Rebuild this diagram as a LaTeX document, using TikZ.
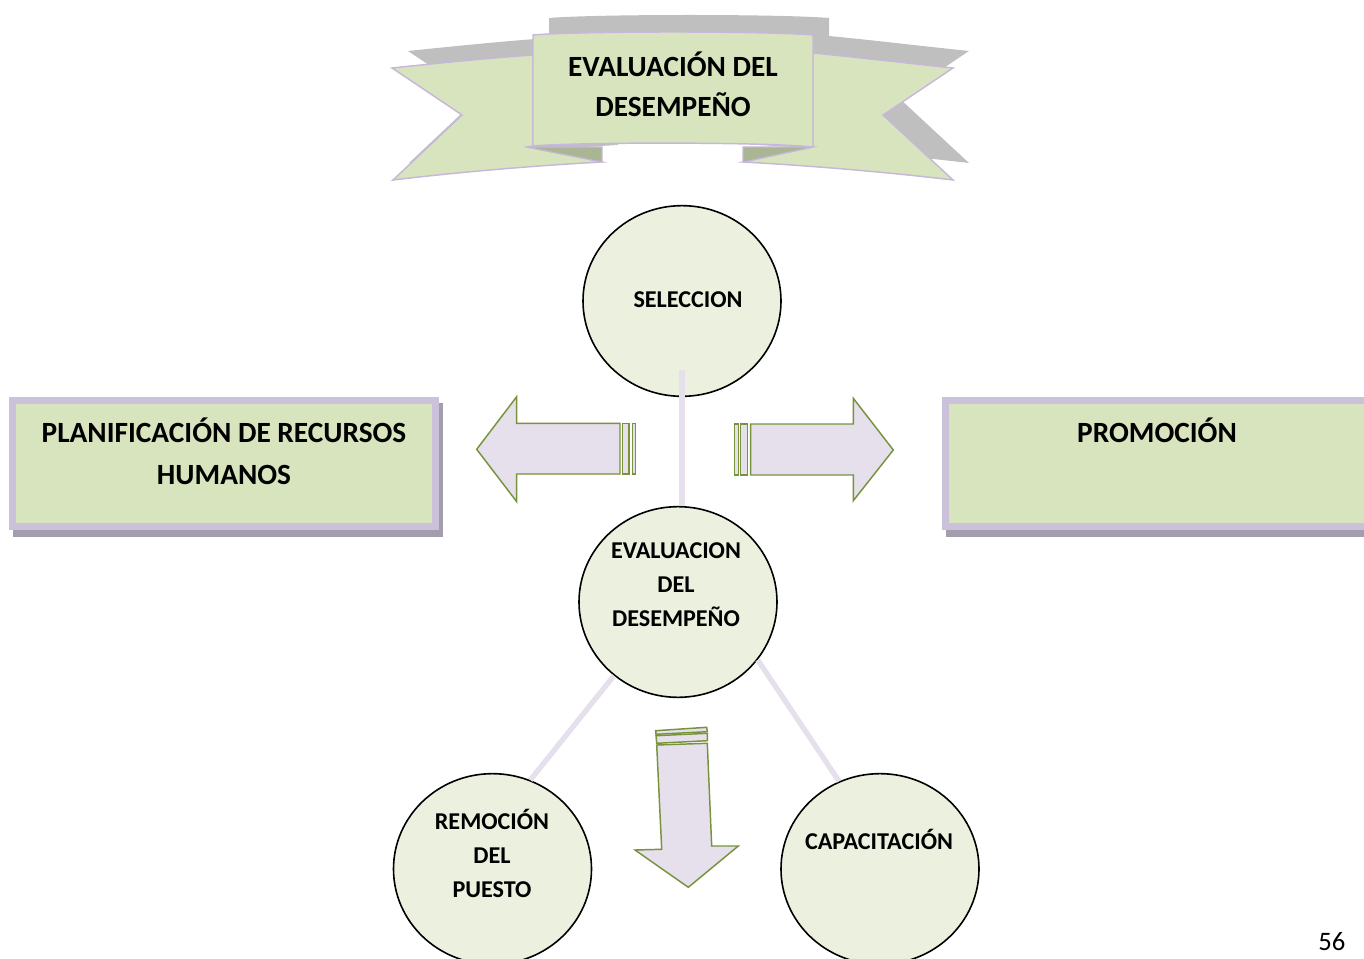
\documentclass[tikz,border=0pt]{standalone}
\usepackage{fontspec}
\setmainfont{Carlito}
\usetikzlibrary{shapes.geometric,calc}
\definecolor{bgreen}{HTML}{D7E4BD}
\definecolor{cgreen}{HTML}{EBF1DE}
\definecolor{blav}{HTML}{CCC1DA}
\definecolor{rlav}{HTML}{C6B8DA}
\definecolor{bshadow}{HTML}{A39DAE}
\definecolor{rgray}{HTML}{BFBFBF}
\definecolor{rfold}{HTML}{AAB594}
\definecolor{afill}{HTML}{E5E0EC}
\definecolor{aline}{HTML}{77933C}
\newcommand{\myribbon}[3]{%
  \path[#1] (392,68) .. controls (440,63) and (490,58) .. (533,55) -- (533,146) -- (527,147) -- (602,162) .. controls (530,166) and (460,172) .. (393,180) -- (462,115) -- cycle;
  \path[#1] (953,68) .. controls (905,63) and (855,57) .. (813,53) -- (813,147) -- (743,162) .. controls (815,166) and (885,172) .. (953,180) -- (883,115) -- cycle;
  \path[#2] (527,147) -- (602,147) -- (602,162) -- cycle;
  \path[#2] (743,147) -- (813,147) -- (743,162) -- cycle;
  \path[#3] (533,35) .. controls (580,31) and (766,31) .. (813,35) -- (813,147) .. controls (766,142) and (580,142) .. (533,146) -- cycle;
}
\begin{document}
\begin{tikzpicture}[x=0.75pt,y=-0.75pt,
  circ/.style={ellipse, draw=black, line width=1.2pt, fill=cgreen, minimum width=148.5pt, minimum height=143pt, inner sep=0pt},
  ctext/.style={font=\fontsize{18.1}{25.5}\selectfont\bfseries, align=center, inner sep=0pt},
  btext/.style={font=\fontsize{22}{31.5}\selectfont\bfseries, align=center, inner sep=0pt},
  ttext/.style={font=\fontsize{22}{30}\selectfont\bfseries, align=center, inner sep=0pt},
  conn/.style={draw=afill, line width=4pt},
  barrow/.style={draw=aline, fill=afill, line width=1.1pt, line join=miter},
  boxst/.style={rectangle, fill=bgreen, draw=blav, line width=5.25pt, minimum width=317.25pt, minimum height=94.5pt, inner sep=0pt},
  bshad/.style={fill=bshadow}
]
\useasboundingbox (0,0) rectangle (1364,959);

% ---------- banner ----------
\begin{scope}[shift={(16,-17)}]
  \myribbon{fill=rgray}{fill=rgray}{fill=rgray}
\end{scope}
\myribbon{fill=bgreen, draw=rlav, line width=1.1pt, line join=miter}{fill=rfold, draw=rlav, line width=0.8pt}{fill=bgreen, draw=rlav, line width=1.1pt}
\node[ttext] (title) at (673,84) {EVALUACIÓN DEL\\DESEMPEÑO};

% ---------- side boxes ----------
\fill[bshad] (13,403) rectangle (443,537);
\node[boxst] (plan) at (224,463.5) {};
\node[btext] (plantext) at (224,451) {PLANIFICACIÓN DE RECURSOS\\HUMANOS};

\fill[bshad] (946,403) rectangle (1376,537);
\node[boxst] (prom) at (1157,463.5) {};
\node[btext] (promtext) at (1157,430) {PROMOCIÓN};

% ---------- block arrows ----------
\draw[barrow] (476.7,449.3) -- (516.7,396.7) -- (516.7,423.3) -- (620,423.3) -- (620,474) -- (516.7,474) -- (516.7,501.7) -- cycle;
\draw[barrow] (622.3,423.3) rectangle (629,474);
\draw[barrow] (632.3,423.3) rectangle (635.7,474);

\draw[barrow] (893.3,450) -- (853.3,398.3) -- (853.3,424) -- (750.7,424) -- (750.7,475) -- (853.3,475) -- (853.3,500.7) -- cycle;
\draw[barrow] (740.7,424) rectangle (747.7,475);
\draw[barrow] (734.3,424) rectangle (738.3,475);

\draw[barrow] (655.7,730.7) -- (706.7,727.3) -- (707.3,731.7) -- (656,734.3) -- cycle;
\draw[barrow] (656,735.7) -- (707.3,733.3) -- (707.3,740.7) -- (656.7,743.3) -- cycle;
\draw[barrow] (656.7,745) -- (707.3,743.3) -- (711.7,846) -- (738.3,846) -- (688.3,887.3) -- (635,850) -- (661.7,849.3) -- cycle;

% ---------- circles ----------
\node[circ] (sel) at (682,301) {};
\node[circ] (eval) at (678,602) {};
\node[circ] (remo) at (492.5,869) {};
\node[circ] (capa) at (880,869) {};

\node[ctext] (seltext) at (688,300) {SELECCION};
\node[ctext] (evaltext) at (676,585) {EVALUACION\\DEL\\DESEMPEÑO};
\node[ctext] (remotext) at (492,853) {REMOCIÓN\\DEL\\PUESTO};
\node[ctext] (capatext) at (879,839) {CAPACITACIÓN};

% ---------- connectors ----------
\coordinate (selin) at ($(sel.south)+(0,-27)$);
\draw[conn] (selin) -- (selin |- eval.north);
\draw[conn] (eval.229.5) -- (remo.67.8);
\draw[conn] (eval.-36.9) -- (capa.115.8);

% ---------- page number ----------
\node[font=\fontsize{20}{24}\selectfont, anchor=base west, inner sep=0pt] (page) at (1318,950) {56};
\end{tikzpicture}
\end{document}
